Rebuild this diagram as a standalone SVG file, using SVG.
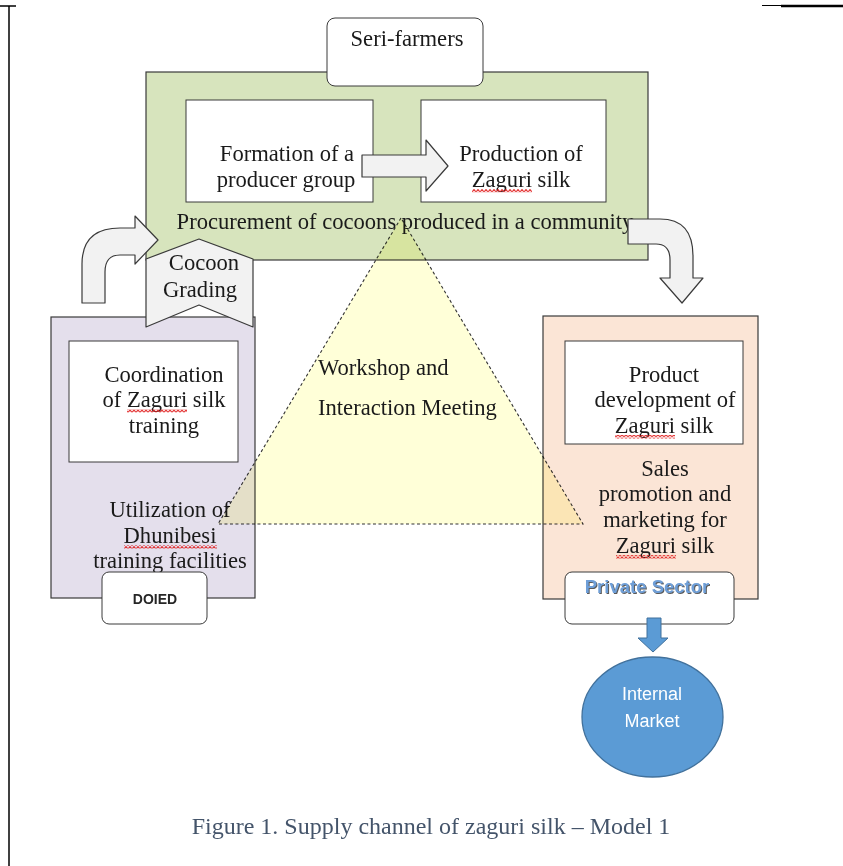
<svg xmlns="http://www.w3.org/2000/svg" width="843" height="866" viewBox="0 0 843 866">
  <style>
    .serif { font-family: "Liberation Serif", "Times New Roman", serif; font-size: 22.6px; fill: #1a1a1a; text-anchor: middle; }
    .box { fill: #ffffff; stroke: #3a3a3a; stroke-width: 1; }
    .frame { stroke: #3a3a3a; stroke-width: 1.2; }
    .block { fill: #f2f2f2; stroke: #3a3a3a; stroke-width: 1.2; stroke-linejoin: round; }
    .sans { font-family: "Liberation Sans", Arial, sans-serif; text-anchor: middle; }
    .wave { fill: url(#squiggle); }
  </style>
  <defs>
    <pattern id="squiggle" width="4" height="3.5" patternUnits="userSpaceOnUse">
      <path d="M0 3 L2 0.6 L4 3" fill="none" stroke="#e01818" stroke-width="1.1"/>
    </pattern>
  </defs>

  <rect width="843" height="866" fill="#ffffff"/>

  <!-- page rules -->
  <g id="page-border" stroke="#000000">
    <line x1="0" y1="6" x2="16" y2="6" stroke-width="1.5"/>
    <line x1="9" y1="6" x2="9" y2="866" stroke-width="1.5"/>
    <line x1="762" y1="5.5" x2="781" y2="5.5" stroke-width="1"/>
    <line x1="781" y1="6" x2="843" y2="6" stroke-width="2.5"/>
  </g>

  <!-- community procurement container -->
  <g id="procurement">
    <rect class="frame" x="146" y="72" width="502" height="188" fill="#d7e4bd"/>
    <text class="serif" x="405" y="229">Procurement of cocoons produced in a community</text>
  </g>

  <!-- training container -->
  <g id="training">
    <rect class="frame" x="51" y="317" width="204" height="281" fill="#e4dfec"/>
    <text class="serif" x="170" y="517">Utilization of</text>
    <text class="serif" x="170" y="543">Dhunibesi</text>
    <text class="serif" x="170" y="568">training facilities</text>
    <rect class="wave" x="124" y="545" width="93" height="3.5"/>
  </g>

  <!-- marketing container -->
  <g id="marketing">
    <rect class="frame" x="543" y="316" width="215" height="283" fill="#fbe5d6"/>
    <text class="serif" x="665" y="476">Sales</text>
    <text class="serif" x="665" y="501">promotion and</text>
    <text class="serif" x="665" y="527">marketing for</text>
    <text class="serif" x="665" y="553">Zaguri silk</text>
    <rect class="wave" x="616" y="555" width="60" height="3.5"/>
  </g>

  <!-- workshop and interaction meeting area -->
  <g id="workshop">
    <polygon points="401,218 218,524 583,524" fill="#ffffd8" style="mix-blend-mode:multiply" stroke="#333333" stroke-width="1.1" stroke-dasharray="3 2.5"/>
    <text class="serif" x="318" y="375" style="text-anchor:start">Workshop and</text>
    <text class="serif" x="318" y="415" style="text-anchor:start">Interaction Meeting</text>
  </g>

  <g id="seri-farmers">
    <rect class="box" x="327" y="18" width="156" height="68" rx="8" stroke-width="1.3"/>
    <text class="serif" x="407" y="46">Seri-farmers</text>
  </g>

  <g id="producer-group">
    <rect class="box" x="186" y="100" width="187" height="102"/>
    <text class="serif" x="287" y="161">Formation of a</text>
    <text class="serif" x="286" y="187">producer group</text>
  </g>

  <g id="silk-production">
    <rect class="box" x="421" y="100" width="185" height="102"/>
    <text class="serif" x="521" y="161">Production of</text>
    <text class="serif" x="521" y="187">Zaguri silk</text>
    <rect class="wave" x="472" y="189" width="60" height="3.5"/>
  </g>

  <g id="coordination">
    <rect class="box" x="69" y="341" width="169" height="121"/>
    <text class="serif" x="164" y="382">Coordination</text>
    <text class="serif" x="164" y="407">of Zaguri silk</text>
    <text class="serif" x="164" y="433">training</text>
    <rect class="wave" x="127" y="409" width="60" height="3.5"/>
  </g>

  <g id="product-development">
    <rect class="box" x="565" y="341" width="178" height="103"/>
    <text class="serif" x="664" y="382">Product</text>
    <text class="serif" x="665" y="407">development of</text>
    <text class="serif" x="664" y="433">Zaguri silk</text>
    <rect class="wave" x="615" y="435" width="60" height="3.5"/>
  </g>

  <g id="doied">
    <rect class="box" x="102" y="572" width="105" height="52" rx="7"/>
    <text class="sans" x="155" y="604" font-size="14" font-weight="bold" fill="#262626">DOIED</text>
  </g>

  <g id="private-sector">
    <rect class="box" x="565" y="572" width="169" height="52" rx="7"/>
    <text class="sans" x="648" y="594" font-size="18.5" font-weight="bold" fill="#5a5a5a">Private Sector</text>
    <text class="sans" x="647" y="593" font-size="18.5" font-weight="bold" fill="#6f9fd8">Private Sector</text>
  </g>

  <g id="internal-market">
    <ellipse cx="652.5" cy="717" rx="70.5" ry="60" fill="#5b9bd5" stroke="#41719c" stroke-width="1.3"/>
    <text class="sans" x="652" y="700" font-size="18" fill="#ffffff">Internal</text>
    <text class="sans" x="652" y="727" font-size="18" fill="#ffffff">Market</text>
  </g>

  <!-- connectors -->
  <g id="connectors">
    <path class="block" d="M82 303 L82 264 Q82 228 120 228 L135 228 L135 216 L158 240 L135 264 L135 255 L120 255 Q105 255 105 272 L105 303 Z"/>
    <path class="block" d="M362 155 L426 155 L426 140 L448 166 L426 191 L426 177 L362 177 Z"/>
    <path class="block" d="M628 219 L660 219 Q693 219 693 256 L693 278 L703 278 L682 303 L660 278 L670 278 L670 260 Q670 244 656 244 L628 244 Z"/>
    <path d="M647 618 L661 618 L661 638 L668 638 L653 652 L638 638 L647 638 Z" fill="#5b9bd5" stroke="#41719c" stroke-width="1"/>
  </g>

  <!-- cocoon grading tag -->
  <g id="cocoon-grading">
    <polygon class="block" points="199,239 253,259 253,327 199,305 146,327 146,259"/>
    <text class="serif" x="204" y="270">Cocoon</text>
    <text class="serif" x="200" y="297">Grading</text>
  </g>

  <text x="431" y="834" font-family="Liberation Serif, Times New Roman, serif" font-size="24" fill="#44546a" text-anchor="middle">Figure 1. Supply channel of zaguri silk – Model 1</text>
</svg>
